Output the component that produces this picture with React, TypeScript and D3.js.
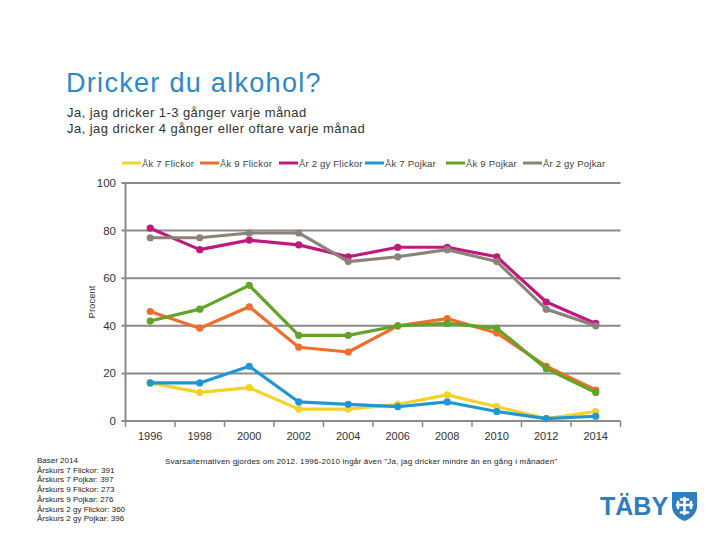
import React from "react";
import * as d3 from "d3";

const years = ["1996", "1998", "2000", "2002", "2004", "2006", "2008", "2010", "2012", "2014"];
const ak7Flickor = [16, 12, 14, 5, 5, 7, 11, 6, 1, 4];
const ak9Flickor = [46, 39, 48, 31, 29, 40, 43, 37, 23, 13];
const ar2Flickor = [81, 72, 76, 74, 69, 73, 73, 69, 50, 41];
const ak7Pojkar = [16, 16, 23, 8, 7, 6, 8, 4, 1, 2];
const ak9Pojkar = [42, 47, 57, 36, 36, 40, 41, 39, 22, 12];
const ar2Pojkar = [77, 77, 79, 79, 67, 69, 72, 67, 47, 40];
const yTicks = [0, 20, 40, 60, 80, 100];
const seriesNames = ["Åk 7 Flickor", "Åk 9 Flickor", "År 2 gy Flickor", "Åk 7 Pojkar", "Åk 9 Pojkar", "År 2 gy Pojkar"];
const seriesValues = [ak7Flickor, ak9Flickor, ar2Flickor, ak7Pojkar, ak9Pojkar, ar2Pojkar];
const seriesColors = ["#F5D22A", "#EE6E2C", "#C0187F", "#1E97D4", "#62A328", "#8C8279"];
const drawOrder = [2, 5, 1, 4, 0, 3];
const legendX = [122, 200, 279, 365, 446, 523];
const baserLines = [
  "Baser 2014",
  "Årskurs 7 Flickor: 391",
  "Årskurs 7 Pojkar: 397",
  "Årskurs 9 Flickor: 273",
  "Årskurs 9 Pojkar: 276",
  "Årskurs 2 gy Flickor: 360",
  "Årskurs 2 gy Pojkar: 396",
];

export default function App() {
  const W = 720, H = 540;
  const left = 125.5, right = 620.5, top = 183, bottom = 421;
  const x = d3.scaleBand<string>().domain(years).range([left, right]);
  const y = d3.scaleLinear().domain([0, 100]).range([bottom, top]);
  const cx = (yr: string) => (x(yr) as number) + x.bandwidth() / 2;
  const line = d3.line<number>().x((_, i) => cx(years[i])).y((v) => y(v));
  const font = "'Liberation Sans', Arial, sans-serif";
  const boundaries = years.map((yr) => x(yr) as number).concat([right]);
  const gridColor = "#8A8A8A";

  return (
    <svg width={W} height={H} style={{ position: "absolute", left: 0, top: 0, background: "#fff" }} fontFamily={font}>
      <text x={66} y={92} fontSize={27} letterSpacing={1.3} fill="#2A8AC6">Dricker du alkohol?</text>
      <text x={67} y={117} fontSize={13} letterSpacing={0.45} fill="#333">Ja, jag dricker 1-3 gånger varje månad</text>
      <text x={67} y={133} fontSize={13} letterSpacing={0.45} fill="#333">Ja, jag dricker 4 gånger eller oftare varje månad</text>

      {seriesNames.map((n, i) => (
        <g key={n}>
          <line x1={legendX[i]} x2={legendX[i] + 19} y1={163} y2={163} stroke={seriesColors[i]} strokeWidth={3} />
          <text x={legendX[i] + 20} y={167} fontSize={9.5} letterSpacing={0.2} fill="#404040">{n}</text>
        </g>
      ))}

      {yTicks.map((t) => (
        <g key={t}>
          <line x1={left - 4} x2={right} y1={y(t)} y2={y(t)} stroke={gridColor} strokeWidth={2} />
          <text x={116} y={y(t) + 4} fontSize={11.5} textAnchor="end" fill="#333">{t}</text>
        </g>
      ))}
      <line x1={left} x2={left} y1={top} y2={bottom} stroke={gridColor} strokeWidth={2} />
      {boundaries.map((b, i) => (
        <line key={i} x1={b} x2={b} y1={bottom} y2={bottom + 6} stroke={gridColor} strokeWidth={1.5} />
      ))}
      {years.map((yr) => (
        <text key={yr} x={cx(yr)} y={440} fontSize={11} textAnchor="middle" fill="#333">{yr}</text>
      ))}
      <text transform={`translate(95,${(top + bottom) / 2}) rotate(-90)`} fontSize={9.5} textAnchor="middle" fill="#333">Procent</text>

      {drawOrder.map((si) => (
        <g key={si}>
          <path d={line(seriesValues[si]) as string} fill="none" stroke={seriesColors[si]} strokeWidth={3.2} strokeLinejoin="round" />
          {seriesValues[si].map((v, i) => (
            <circle key={i} cx={cx(years[i])} cy={y(v)} r={3.6} fill={seriesColors[si]} />
          ))}
        </g>
      ))}

      {baserLines.map((l, i) => (
        <text key={i} x={37} y={463 + i * 9.7} fontSize={8} fill="#222">{l}</text>
      ))}
      <text x={165} y={464} fontSize={8} letterSpacing={0.2} fill="#222">Svarsalternativen gjordes om 2012. 1996-2010 ingår även "Ja, jag dricker mindre än en gång i månaden"</text>

      <text x={600} y={515} fontSize={25} fontWeight="bold" fill="#2F7DC1">TÄBY</text>
      <g transform="translate(672,492)">
        <path d="M0,0 H25 V14 C25,22 18,27 12.5,29 C7,27 0,22 0,14 Z" fill="#2F7DC1" />
        <g stroke="#fff" strokeWidth={2.6} strokeLinecap="round">
          <line x1={12.5} y1={6} x2={12.5} y2={22} />
          <line x1={5} y1={13} x2={20} y2={13} />
          <line x1={9} y1={7.5} x2={16} y2={7.5} />
          <line x1={9} y1={20.5} x2={16} y2={20.5} />
          <line x1={6} y1={10} x2={6} y2={16} />
          <line x1={19} y1={10} x2={19} y2={16} />
        </g>
      </g>
    </svg>
  );
}
